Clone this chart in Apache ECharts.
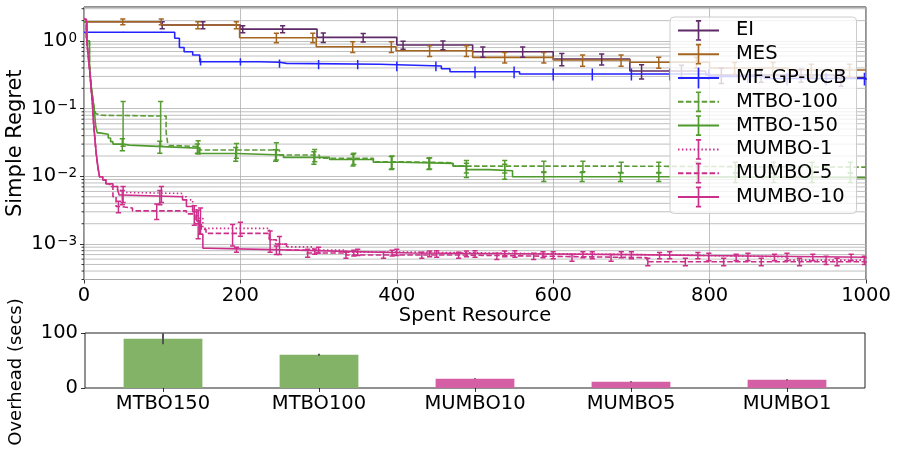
<!DOCTYPE html>
<html><head><meta charset="utf-8">
<script src="https://cdn.jsdelivr.net/npm/echarts@6/dist/echarts.min.js"></script>
<style>html,body{margin:0;padding:0;background:#fff}#c{width:898px;height:450px}</style>
</head><body><div id="c"></div>
<script>
// ---------- data (step curves: value holds from x until next point) ----------
const xTicks = [0, 200, 400, 600, 800, 1000];
const names = ['EI', 'MES', 'MF-GP-UCB', 'MTBO-100', 'MTBO-150', 'MUMBO-1', 'MUMBO-5', 'MUMBO-10'];

const EI = [[0,1.93],[99,1.72],[200,1.50],[298,1.13],[400,0.873],[497,0.695],[600,0.542],[698,0.36],[795,0.315],[960,0.285],[1000,0.285]];
const MES = [[0,1.93],[99,1.72],[199,1.12],[297,0.824],[399,0.719],[497,0.574],[600,0.524],[698,0.485],[800,0.40],[900,0.373],[1000,0.373]];
const MFGPUCB = [[0,1.345],[116,1.10],[122,0.80],[128,0.695],[139,0.62],[148,0.495],[225,0.485],[250,0.468],[259,0.453],[378,0.427],[457,0.39],[468,0.352],[557,0.326],[800,0.30],[870,0.28],[1000,0.266]];
const MTBO100 = [[0,1.9],[4,1.0],[7,0.45],[9,0.22],[11,0.15],[13,0.1],[15,0.085],[17,0.080],[21,0.0778],[105,0.045],[107,0.031],[109,0.0285],[118,0.0275],[148,0.0245],[250,0.0207],[301,0.0185],[370,0.0165],[404,0.0159],[472,0.0142],[670,0.0137],[1000,0.0137]];
const MTBO150 = [[0,1.9],[4,1.0],[7,0.45],[9,0.22],[11,0.15],[13,0.1],[15,0.055],[17,0.044],[20,0.042],[31,0.037],[34,0.0326],[37,0.030],[50,0.029],[58,0.0275],[101,0.026],[148,0.0218],[195,0.0207],[255,0.0191],[314,0.0178],[370,0.0162],[404,0.0156],[472,0.0142],[489,0.0126],[518,0.0121],[548,0.0099],[740,0.0096],[1000,0.0096]];
const MUMBO1 = [[0,2.1],[3,1.2],[5,0.66],[7,0.4],[9,0.21],[11,0.11],[12,0.068],[14,0.035],[15.6,0.022],[17.7,0.0139],[19.8,0.0099],[24,0.0089],[28,0.0078],[37,0.0071],[43,0.0063],[47,0.0058],[50,0.0056],[126,0.0050],[131,0.0045],[139,0.0032],[146,0.0024],[152,0.00171],[237,0.00116],[245,0.0010],[259,0.00091],[293,0.00082],[335,0.00076],[430,0.00072],[600,0.00069],[760,0.00065],[900,0.00058],[1000,0.00058]];
const MUMBO5 = [[0,2.1],[3,1.2],[5,0.66],[7,0.4],[9,0.21],[11,0.11],[12,0.068],[14,0.035],[15.6,0.022],[17.7,0.0139],[19.8,0.0099],[24,0.0089],[28,0.0078],[33,0.0071],[37,0.0050],[41,0.0036],[47,0.0034],[62,0.0031],[131,0.0028],[142,0.0020],[150,0.00165],[156,0.00144],[237,0.00116],[246,0.0010],[259,0.00082],[285,0.00074],[335,0.00069],[480,0.00066],[600,0.00063],[720,0.00055],[1000,0.00052]];
const MUMBO10 = [[0,2.1],[3,1.2],[5,0.66],[7,0.4],[9,0.21],[11,0.11],[12,0.068],[14,0.035],[15.6,0.022],[17.7,0.0139],[19.8,0.0099],[24,0.0089],[28,0.0078],[37,0.0071],[43,0.0063],[45,0.0053],[49,0.0050],[126,0.0045],[131,0.0036],[139,0.0030],[144,0.0022],[148,0.0014],[152,0.00087],[157,0.00083],[242,0.00082],[262,0.00078],[335,0.00074],[420,0.00072],[560,0.00070],[700,0.00068],[790,0.00064],[1000,0.00062]];

// error bars: x positions and standard deviations (linear)
const EI_errX = [100,152,203,254,306,357,408,459,510,561,611,662,713,764,815,866,917,968];
const EI_errS = [0.2,0.2,0.18,0.18,0.18,0.16,0.12,0.13,0.12,0.12,0.11,0.1,0.085,0.08,0.08,0.07,0.07,0.07];
const MES_errX = [49.6,98.8,145.6,194.8,246,292.6,343.6,393,442,489,538,588,637.6,686.8,735,783,832,881,930,979];
const MES_errS = [0.19,0.19,0.2,0.2,0.18,0.18,0.15,0.15,0.13,0.13,0.1,0.1,0.1,0.1,0.09,0.09,0.08,0.08,0.08,0.08];
const MF_errX = [50,99,149,200,250,300,350,400,450,500,550,600,650,700,749,799,849,899,949,998];
const MF_errS = [0.03,0.03,0.06,0.06,0.065,0.07,0.07,0.07,0.07,0.07,0.07,0.065,0.065,0.065,0.065,0.06,0.06,0.06,0.06,0.06];
const MTBO100_errX = [50,98,146,195,246,295,345,394,442,489,538,588,638,687,735,784,833,882,931,980];
const MTBO100_errS = [0.05,0.05,0.006,0.006,0.007,0.0043,0.0035,0.0035,0.003,0.003,0.003,0.0025,0.0025,0.0025,0.0025,0.0025,0.0025,0.0025,0.0025,0.0025];
const MTBO150_errX = [49,97,145,194,245,294,344,393,441,489,538,588,637,686,735,784,833,882,931,980];
const MTBO150_errS = [0.006,0.0055,0.004,0.005,0.004,0.004,0.0035,0.0035,0.003,0.003,0.003,0.0015,0.0015,0.0015,0.0015,0.0015,0.0015,0.0015,0.0015,0.0015];
const MUMBO1_errX = [50,99,149,200,250,300,350,400,451,500,551,600,650,700,749,799,849,899,949,998];
const MUMBO1_errS = [0.0015,0.0015,0.001,0.0004,0.0003,0.00008,0.00008,0.00008,0.00008,0.00008,0.00008,0.00008,0.00008,0.00008,0.00008,0.00008,0.00008,0.00008,0.00008,0.00008];
const MUMBO5_errX = [44,93,141,190,238,286,335,383,432,479,528,575,624,674,721,769,818,866,915,963];
const MUMBO5_errS = [0.0007,0.0008,0.0009,0.0005,0.0004,0.0001,0.00007,0.00007,0.00007,0.00007,0.00007,0.00007,0.00007,0.00007,0.00007,0.00007,0.00007,0.00007,0.00007,0.00007];
const MUMBO10_errX = [49,97,146,195,246,295,345,394,442,489,538,587,638,687,736,785,834,883,932,981];
const MUMBO10_errS = [0.0012,0.0012,0.001,0.00007,0.00012,0.00007,0.00007,0.00007,0.00007,0.00007,0.00007,0.00007,0.00007,0.00007,0.00007,0.00007,0.00007,0.00007,0.00007,0.00007];

// overhead bar chart
const barCats = ['MTBO150', 'MTBO100', 'MUMBO10', 'MUMBO5', 'MUMBO1'];
const barVals = [89.5, 60.5, 17, 11.5, 15];
const barErr = [10, 2, 0.6, 1, 1];

// ---------- styling ----------
const FONT = 'DejaVu Sans';
const colors = ['#5e2a67', '#a5661f', '#2323ff', '#5b9c36', '#4f9a2c', '#cc2f8a', '#cc2f8a', '#cc2f8a'];
const dashes = ['solid', 'solid', 'solid', [5.5, 2.4], 'solid', [1.5, 2.4], [5.5, 2.4], 'solid'];
const barColors = ['#82b366', '#82b366', '#d55fa5', '#d55fa5', '#d55fa5'];
const capIcon = 'path://M0 0M20 20M7.5 0L12.5 0L12.5 1.6L10.8 1.6L10.8 18.4L12.5 18.4L12.5 20L7.5 20L7.5 18.4L9.2 18.4L9.2 1.6L7.5 1.6Z';
const noCapIcon = 'path://M0 0M20 20M9.2 0L10.8 0L10.8 20L9.2 20Z';

const curves = [EI, MES, MFGPUCB, MTBO100, MTBO150, MUMBO1, MUMBO5, MUMBO10];
const errXs = [EI_errX, MES_errX, MF_errX, MTBO100_errX, MTBO150_errX, MUMBO1_errX, MUMBO5_errX, MUMBO10_errX];
const errSs = [EI_errS, MES_errS, MF_errS, MTBO100_errS, MTBO150_errS, MUMBO1_errS, MUMBO5_errS, MUMBO10_errS];
const caps = [2.6, 2.6, 0, 2.6, 2.6, 2.6, 2.6, 2.6];

const Y_MIN = 3.0e-4, Y_MAX = 3.18;

function valueAt(steps, x) {
  let v = steps[0][1];
  for (const p of steps) if (p[0] <= x) v = p[1];
  return v;
}

function errRender(color, cap, lw) {
  return function (params, api) {
    const x = api.value(0), lo = api.value(1), hi = api.value(2);
    const a = api.coord([x, hi]), b = api.coord([x, lo]);
    const st = { stroke: color, lineWidth: lw };
    const ch = [{ type: 'line', shape: { x1: a[0], y1: a[1], x2: b[0], y2: b[1] }, style: st }];
    if (cap > 0) {
      ch.push({ type: 'line', shape: { x1: a[0] - cap, y1: a[1], x2: a[0] + cap, y2: a[1] }, style: st });
      ch.push({ type: 'line', shape: { x1: b[0] - cap, y1: b[1], x2: b[0] + cap, y2: b[1] }, style: st });
    }
    return { type: 'group', children: ch };
  };
}

// minor log gridlines (2..9 x 10^k)
const minorVals = [];
for (let k = -4; k <= 0; k++) for (let m = 2; m <= 9; m++) {
  const v = m * Math.pow(10, k);
  if (v > Y_MIN && v < Y_MAX) minorVals.push([0, v]);
}

const series = [];
series.push({
  type: 'custom', name: 'minor-grid', xAxisIndex: 0, yAxisIndex: 0, z: 1, silent: true,
  data: minorVals,
  renderItem: function (params, api) {
    const y = api.coord([0, api.value(1)])[1];
    const cs = params.coordSys;
    return { type: 'group', children: [
      { type: 'line', shape: { x1: cs.x, y1: y, x2: cs.x + cs.width, y2: y }, style: { stroke: '#b0b0b0', lineWidth: 0.8 } },
      { type: 'line', shape: { x1: cs.x - 2.5, y1: y, x2: cs.x, y2: y }, style: { stroke: '#000', lineWidth: 0.8 } }
    ] };
  }
});

names.forEach((n, i) => {
  series.push({
    type: 'line', name: n, xAxisIndex: 0, yAxisIndex: 0, z: 2,
    data: curves[i], step: 'end', showSymbol: false,
    symbol: caps[i] > 0 ? capIcon : noCapIcon,
    lineStyle: { color: colors[i], width: 1.6, type: dashes[i] },
    itemStyle: { color: colors[i] },
    emphasis: { disabled: true }
  });
});
names.forEach((n, i) => {
  const d = errXs[i].map((x, j) => {
    const c = valueAt(curves[i], x);
    return [x, Math.max(c - errSs[i][j], 1e-6), c + errSs[i][j]];
  });
  series.push({
    type: 'custom', name: n + ' err', xAxisIndex: 0, yAxisIndex: 0, z: 3, silent: true, clip: true,
    data: d, renderItem: errRender(colors[i], caps[i], 1.5)
  });
});

series.push({
  type: 'bar', name: 'overhead', xAxisIndex: 1, yAxisIndex: 1, barWidth: '50.5%',
  data: barVals.map((v, i) => ({ value: v, itemStyle: { color: barColors[i] } })),
  emphasis: { disabled: true }
});
series.push({
  type: 'custom', name: 'overhead err', xAxisIndex: 1, yAxisIndex: 1, z: 3, silent: true, clip: true,
  data: barVals.map((v, i) => [i, v - barErr[i], v + barErr[i]]),
  renderItem: errRender('#555555', 0, 2)
});

const axisTxt = { color: '#000', fontFamily: FONT, fontSize: 19.5 };

const option = {
  animation: false,
  textStyle: { fontFamily: FONT },
  grid: [
    { left: 84, top: 7, width: 782, height: 272.5, show: true, borderColor: '#222', borderWidth: 1, backgroundColor: 'transparent', containLabel: false, outerBoundsMode: 'none' },
    { left: 85, top: 333, width: 780, height: 55, show: true, borderColor: '#222', borderWidth: 1, backgroundColor: 'transparent', containLabel: false, outerBoundsMode: 'none' }
  ],
  legend: {
    data: names.map(n => ({ name: n })),
    orient: 'vertical', left: 670, top: 17,
    itemWidth: 41, itemHeight: 26, itemGap: 3,
    padding: [3, 10, 6, 7],
    backgroundColor: 'rgba(255,255,255,0.8)', borderColor: '#cccccc', borderWidth: 1, borderRadius: 4,
    itemStyle: { borderWidth: 0 },
    textStyle: { color: '#000', fontFamily: FONT, fontSize: 19.5, padding: [0, 0, 0, 12] },
    selectedMode: false
  },
  xAxis: [
    {
      gridIndex: 0, type: 'value', min: xTicks[0], max: xTicks[xTicks.length - 1], interval: 200,
      name: 'Spent Resource', nameLocation: 'middle', nameGap: 26, nameMoveOverlap: false,
      nameTextStyle: { color: '#000', fontFamily: FONT, fontSize: 19.5 },
      axisLine: { show: false },
      axisTick: { show: true, length: 4, lineStyle: { color: '#000', width: 0.8 } },
      axisLabel: Object.assign({ margin: 6, formatter: v => String(v) }, axisTxt),
      splitLine: { show: true, lineStyle: { color: '#b0b0b0', width: 0.8 } }
    },
    {
      gridIndex: 1, type: 'category', data: barCats,
      axisLine: { show: false },
      axisTick: { show: true, alignWithLabel: true, length: 4, lineStyle: { color: '#000', width: 0.8 } },
      axisLabel: Object.assign({ margin: 6 }, axisTxt),
      splitLine: { show: false }
    }
  ],
  yAxis: [
    {
      gridIndex: 0, type: 'log', logBase: 10, min: Y_MIN, max: Y_MAX,
      name: 'Simple Regret', nameLocation: 'middle', nameGap: 58, nameMoveOverlap: false,
      nameTextStyle: { color: '#000', fontFamily: FONT, fontSize: 21 },
      axisLine: { show: false },
      axisTick: { show: true, length: 4, lineStyle: { color: '#000', width: 0.8 } },
      axisLabel: {
        margin: 7, showMinLabel: false, showMaxLabel: false,
        formatter: function (v) {
          const e = Math.round(Math.log10(v));
          return '{b|10}{s|' + (e < 0 ? '\u2212' + (-e) : String(e)) + '}';
        },
        rich: {
          b: { fontSize: 19.5, lineHeight: 20, color: '#000', fontFamily: FONT },
          s: { fontSize: 13.5, lineHeight: 14, color: '#000', fontFamily: FONT, verticalAlign: 'top', padding: [0, 0, 20, 1] }
        }
      },
      splitLine: { show: true, lineStyle: { color: '#b0b0b0', width: 0.8 } }
    },
    {
      gridIndex: 1, type: 'value', min: 0, max: 100, interval: 100,
      axisLine: { show: false },
      axisTick: { show: true, length: 4, lineStyle: { color: '#000', width: 0.8 } },
      axisLabel: Object.assign({ margin: 7 }, axisTxt),
      splitLine: { show: false }
    }
  ],
  graphic: [
    { type: 'text', x: 16, y: 372, rotation: Math.PI / 2,
      style: { text: 'Overhead (secs)', fill: '#000', font: '18px "DejaVu Sans"', align: 'center', verticalAlign: 'middle' } }
  ],
  series: series
};

const chart = echarts.init(document.getElementById('c'), null, { renderer: 'canvas' });
chart.setOption(option);
</script>
</body></html>
